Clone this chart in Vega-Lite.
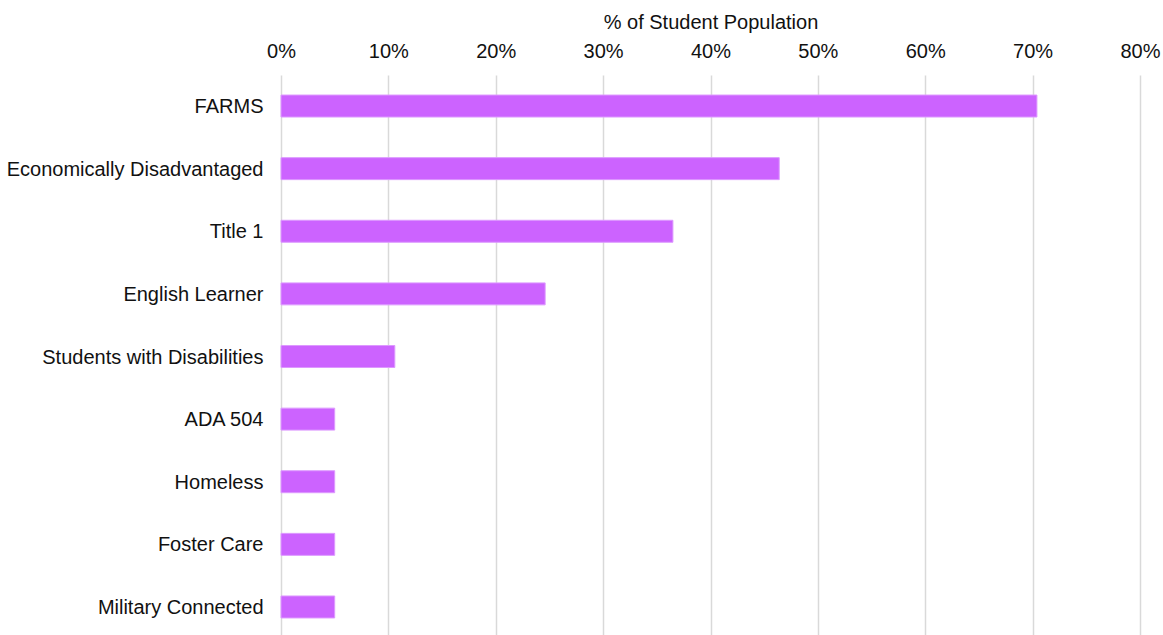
{
  "$schema": "https://vega.github.io/schema/vega-lite/v6.json",
  "autosize": "none",
  "width": 859,
  "height": 563,
  "padding": {"left": 281, "top": 75, "right": 23, "bottom": 0},
  "background": "white",
  "config": {"view": {"stroke": null}, "font": "Liberation Sans"},
  "data": {"values": [
    {"group": "FARMS", "pct": 70.4},
    {"group": "Economically Disadvantaged", "pct": 46.4},
    {"group": "Title 1", "pct": 36.5},
    {"group": "English Learner", "pct": 24.6},
    {"group": "Students with Disabilities", "pct": 10.6},
    {"group": "ADA 504", "pct": 5.0},
    {"group": "Homeless", "pct": 5.0},
    {"group": "Foster Care", "pct": 5.0},
    {"group": "Military Connected", "pct": 5.0}
  ]},
  "mark": {"type": "bar", "color": "#cc63ff", "stroke": "#dd99ff", "strokeWidth": 1},
  "encoding": {
    "y": {
      "field": "group", "type": "nominal", "sort": null,
      "scale": {"paddingInner": 0.649, "paddingOuter": 0.32},
      "axis": {"title": null, "domain": false, "ticks": false, "labelPadding": 18, "labelFontSize": 20, "labelLimit": 400, "labelColor": "#111", "labelFont": "Liberation Sans", "labelOffset": 1}
    },
    "x": {
      "field": "pct", "type": "quantitative",
      "scale": {"domain": [0, 80], "nice": false},
      "axis": {"orient": "top", "values": [0,10,20,30,40,50,60,70,80], "labelExpr": "datum.value + '%'", "labelFlush": false, "title": "% of Student Population", "titleFontSize": 20, "titleFontWeight": "normal", "titleColor": "#111", "titlePadding": 9, "domain": false, "ticks": false, "labelPadding": 14, "labelFontSize": 20, "labelColor": "#111", "gridColor": "#d9d9d9", "gridWidth": 1.5}
    }
  }
}
